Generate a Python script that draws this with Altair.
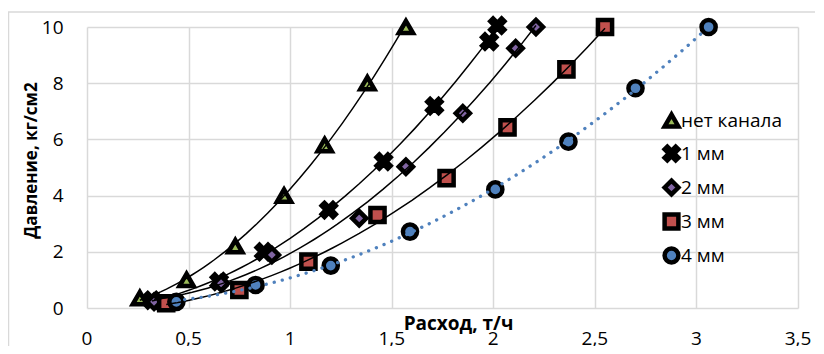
import altair as alt
import pandas as pd

series_names = ["нет канала", "1 мм", "2 мм", "3 мм", "4 мм"]

x_none = [0.26, 0.49, 0.73, 0.97, 1.17, 1.38, 1.57]
y_none = [0.35, 1.0, 2.2, 4.0, 5.8, 8.0, 10.0]
x_1mm = [0.32, 0.65, 0.87, 1.19, 1.46, 1.71, 1.98, 2.02]
y_1mm = [0.28, 0.94, 2.0, 3.49, 5.21, 7.19, 9.48, 10.05]
x_2mm = [0.33, 0.66, 0.91, 1.34, 1.57, 1.85, 2.11, 2.21]
y_2mm = [0.22, 0.88, 1.89, 3.19, 5.03, 6.93, 9.24, 10.0]
x_3mm = [0.39, 0.75, 1.09, 1.43, 1.77, 2.07, 2.36, 2.55]
y_3mm = [0.17, 0.64, 1.65, 3.31, 4.62, 6.43, 8.49, 10.0]
x_4mm = [0.44, 0.83, 1.20, 1.59, 2.01, 2.37, 2.70, 3.06]
y_4mm = [0.22, 0.82, 1.51, 2.72, 4.22, 5.92, 7.82, 10.0]

x_ticks = [0, 0.5, 1, 1.5, 2, 2.5, 3, 3.5]
x_tick_labels = ["0", "0,5", "1", "1,5", "2", "2,5", "3", "3,5"]
y_ticks = [0, 2, 4, 6, 8, 10]

fill_colors = ["#9BBB59", "#000000", "#8064A2", "#C0504D", "#4F81BD"]
outline_colors = ["#000000"] * 5
X_PATH = "M-1,-0.6L-0.6,-1L0,-0.4L0.6,-1L1,-0.6L0.4,0L1,0.6L0.6,1L0,0.4L-0.6,1L-1,0.6L-0.4,0Z"
shapes = ["triangle-up", X_PATH, "diamond", "square", "circle"]

FONT = "Open Sans"

xs = [x_none, x_1mm, x_2mm, x_3mm, x_4mm]
ys = [y_none, y_1mm, y_2mm, y_3mm, y_4mm]
rows = []
for name, xv, yv in zip(series_names, xs, ys):
    for a, b in zip(xv, yv):
        rows.append({"series": name, "x": a, "y": b})
df = pd.DataFrame(rows)
tick_df = pd.DataFrame({"x": x_ticks, "label": x_tick_labels})

x_enc = alt.X(
    "x:Q",
    scale=alt.Scale(domain=[0, 3.5], nice=False),
    axis=alt.Axis(
        values=x_ticks,
        labels=False,
        title="Расход, т/ч",
        titleFontSize=19,
        titleX=371, titleY=21, titleBaseline="alphabetic", titleAlign="center",
    ),
)
y_enc = alt.Y(
    "y:Q",
    scale=alt.Scale(domain=[0, 10], nice=False),
    axis=alt.Axis(
        values=y_ticks,
        title="Давление, кг/см2",
        labelPadding=24,
        titleFontSize=17,
        titleAngle=270, titleX=-56, titleY=133,
        titleBaseline="middle", titleAlign="center",
    ),
)

legend = alt.Legend(
    title=None, orient="none", legendX=575, legendY=84,
    symbolSize=190, rowPadding=1, labelOffset=0, padding=0,
    labelFont=FONT, labelFontSize=19, labelColor="#000000",
    symbolStrokeWidth=4.5, symbolOpacity=1,
)

points = alt.Chart(df).mark_point(
    filled=True, size=200, strokeWidth=4.5, opacity=1
).encode(
    x=x_enc,
    y=y_enc,
    fill=alt.Fill("series:N", scale=alt.Scale(domain=series_names, range=fill_colors),
                  legend=legend),
    shape=alt.Shape("series:N", scale=alt.Scale(domain=series_names, range=shapes),
                    legend=legend),
    stroke=alt.Stroke("series:N", scale=alt.Scale(domain=series_names, range=outline_colors),
                      legend=legend),
)

black_lines = alt.Chart(df).transform_filter(
    alt.datum.series != "4 мм"
).transform_regression(
    "x", "y", groupby=["series"], method="poly", order=2
).mark_line(color="black", strokeWidth=1.5).encode(
    x=x_enc, y=y_enc, detail="series:N"
)

blue_line = alt.Chart(df).transform_filter(
    alt.datum.series == "4 мм"
).transform_regression(
    "x", "y", method="poly", order=2
).mark_line(color="#4F81BD", strokeWidth=3.3, strokeDash=[0.1, 8.2], strokeCap="round").encode(
    x=x_enc, y=y_enc
)

# x tick labels with decimal commas, placed under the axis title as in the original
x_labels = alt.Chart(tick_df).mark_text(
    font=FONT, fontSize=19, color="#000000", align="center", baseline="alphabetic"
).encode(
    x=x_enc, y=alt.value(318), text="label:N"
)

frame_df = pd.DataFrame({"k": [0]})
frame_left = alt.Chart(frame_df).mark_rule(color="#d9d9d9", strokeWidth=1.5).encode(
    x=alt.value(-78.5), y=alt.value(-15), y2=alt.value(340)
)
frame_top = alt.Chart(frame_df).mark_rule(color="#d9d9d9", strokeWidth=1.5).encode(
    x=alt.value(-79), x2=alt.value(740), y=alt.value(-15)
)

chart = alt.layer(frame_left, frame_top, points, black_lines, blue_line, x_labels).properties(
    width=711, height=281,
    padding={"left": 79, "top": 19, "right": 17, "bottom": 38},
    autosize=alt.AutoSizeParams(type="none"),
).configure_view(stroke=None).configure_axis(
    grid=True, gridColor="#d9d9d9", gridWidth=1.5, domain=False, ticks=False,
    labelFont=FONT, labelFontSize=19, labelColor="#000000",
    titleFont=FONT, titleFontWeight="bold", titleColor="#000000",
)

chart.save("out.html", embed_options={"renderer": "svg", "actions": False})
